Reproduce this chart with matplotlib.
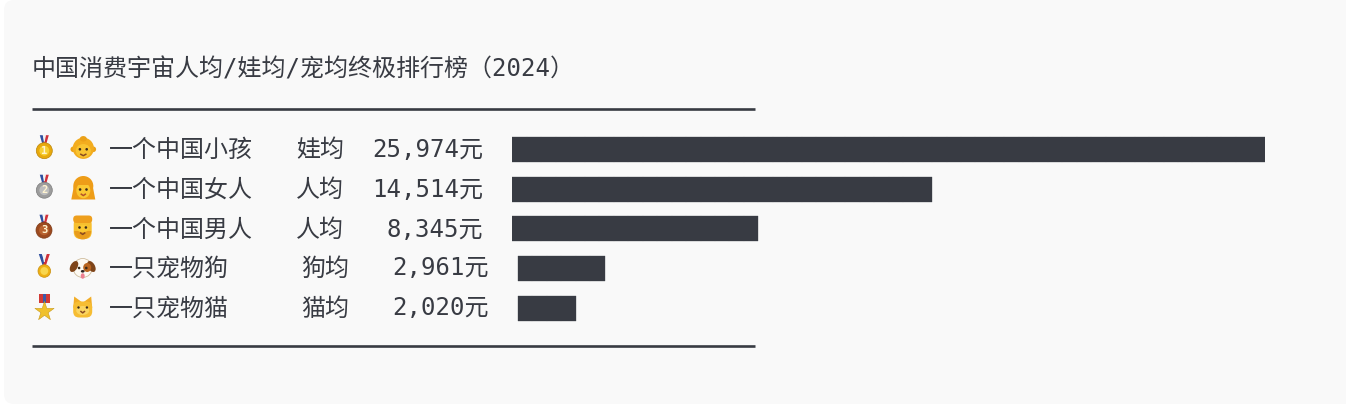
import matplotlib
matplotlib.use('Agg')
import matplotlib.pyplot as plt
from matplotlib.patches import Circle, Ellipse, FancyBboxPatch, Polygon, Rectangle, Wedge

plt.rcParams['font.family'] = ['DejaVu Sans Mono', 'Noto Sans CJK SC']

TITLE = "中国消费宇宙人均/娃均/宠均终极排行榜（2024）"
names = ["一个中国小孩", "一个中国女人", "一个中国男人", "一只宠物狗", "一只宠物猫"]
units = ["娃均", "人均", "人均", "狗均", "猫均"]
values = [25974, 14514, 8345, 2961, 2020]
blocks = [52, 29, 17, 6, 4]  # one block per 500 yuan

W, H = 1346, 404
BLOCK_PX = 14.47
INK = '#383b43'
BAR = '#383b43'
row_y = [148, 188, 228, 267, 307]

fig = plt.figure(figsize=(W / 100, H / 100), dpi=100, facecolor='white')
ax = fig.add_axes([0, 0, 1, 1])
ax.set_xlim(0, W)
ax.set_ylim(H, 0)
ax.axis('off')

ax.add_patch(FancyBboxPatch((4, 0), W + 30, H, boxstyle='round,pad=0,rounding_size=10',
                            fc='#f9f9f9', ec='none', zorder=0))

ax.text(31.8, 76.5, TITLE, fontsize=17.28, color=INK, va='baseline')
ax.hlines([109, 346], 32, 755, color=INK, lw=1.9, zorder=2)


def medal_disc(x, y, r, base, light, dark):
    ax.add_patch(Circle((x, y), r, fc=base, ec=dark, lw=0.5, zorder=4))
    ax.add_patch(Circle((x, y), r * 0.62, fc=light, ec='none', zorder=5))


def ribbon(x, top, bottom, half):
    ax.add_patch(Polygon([(x - half, top), (x - half + 3, top), (x + 1.5, bottom), (x - 1.5, bottom)],
                         fc='#2f4f9f', ec='none', zorder=3))
    ax.add_patch(Polygon([(x + half, top), (x + half - 3, top), (x - 1.5, bottom), (x + 1.5, bottom)],
                         fc='#d0313a', ec='none', zorder=3))
    ax.add_patch(Polygon([(x - 1.5, top), (x + 1.5, top), (x + 0.5, bottom - 4), (x - 0.5, bottom - 4)],
                         fc='#f2f2f2', ec='none', zorder=3))


def rank_medal(x, y, r, base, light, dark, label):
    ribbon(x, y - 15.5, y - 5, 4.5)
    medal_disc(x, y, r, base, light, dark)
    ax.text(x, y + 0.2, label, fontsize=7.5, color='#fff4d0', ha='center', va='center',
            fontweight='bold', zorder=6)


def sport_medal(x, y):
    ribbon(x, y - 17, y - 5, 5.5)
    medal_disc(x, y, 6.3, '#eeb012', '#f8d64e', '#c98f10')


def star_medal(x, y):
    ax.add_patch(Rectangle((x - 5.5, y - 17), 11, 9, fc='#d23a35', ec='none', zorder=3))
    ax.add_patch(Rectangle((x - 1.5, y - 17), 3, 9, fc='#3d5aa8', ec='none', zorder=4))
    ax.scatter([x], [y], s=210, marker='*', color='#f0c12c', edgecolors='#c99a1a',
               linewidths=0.4, zorder=5)


def eyes(x, y, gap=3.4, r=1.3, color='#3b2a1a'):
    for dx in (-gap, gap):
        ax.add_patch(Circle((x + dx, y), r, fc=color, ec='none', zorder=8))


def mouth(x, y, w=5, color='#8a4b20'):
    ax.plot([x - w / 2, x, x + w / 2], [y, y + 1.4, y], color=color, lw=1.1, zorder=8)


def baby(x, y):
    for dx in (-10, 10):
        ax.add_patch(Circle((x + dx, y + 1), 2.8, fc='#eba118', ec='none', zorder=4))
    ax.add_patch(Circle((x, y), 10.6, fc='#f3ad1f', ec='none', zorder=5))
    ax.add_patch(Ellipse((x, y - 9.5), 7, 5.5, fc='#eba118', ec='none', zorder=6))
    ax.add_patch(Ellipse((x, y + 2.5), 15, 13.5, fc='#f9c431', ec='none', zorder=6))
    eyes(x, y + 1)
    mouth(x, y + 6)


def woman(x, y):
    ax.add_patch(Polygon([(x - 12, y + 11.5), (x + 12, y + 11.5), (x + 9, y - 4), (x - 9, y - 4)],
                         fc='#ee9d18', ec='none', zorder=4))
    ax.add_patch(Circle((x, y - 2), 10, fc='#ee9d18', ec='none', zorder=4))
    ax.add_patch(Ellipse((x, y + 2.5), 14, 15.5, fc='#fbc832', ec='none', zorder=5))
    ax.add_patch(Wedge((x + 1, y - 3), 7.5, 180, 360, fc='#ee9d18', ec='none', zorder=6))
    eyes(x, y + 1.5, gap=3.2)
    mouth(x, y + 6.2, w=4, color='#b5532a')


def man(x, y):
    ax.add_patch(FancyBboxPatch((x - 9, y - 9.5), 18, 21.5, boxstyle='round,pad=0,rounding_size=7',
                                fc='#f7bf2e', ec='none', zorder=4))
    ax.add_patch(FancyBboxPatch((x - 9.5, y - 11.5), 19, 7.5, boxstyle='round,pad=0,rounding_size=3.5',
                                fc='#ee9f1d', ec='none', zorder=5))
    ax.add_patch(Wedge((x, y + 4), 8.5, 0, 180, fc='#e99c1c', ec='none', zorder=5))
    ax.add_patch(Ellipse((x, y + 1.5), 12, 7.5, fc='#fbc832', ec='none', zorder=6))
    eyes(x, y + 0.5, gap=3.2)
    mouth(x, y + 6, w=4)


def dog(x, y):
    ax.add_patch(Ellipse((x, y + 0.5), 19, 19, fc='#fdfaf3', ec='#cfbd9e', lw=0.6, zorder=5))
    ax.add_patch(Ellipse((x - 8.7, y - 1), 7, 12, angle=30, fc='#7e4419', ec='none', zorder=6))
    ax.add_patch(Ellipse((x + 8.7, y - 1), 7, 12, angle=-30, fc='#7e4419', ec='none', zorder=6))
    ax.add_patch(Ellipse((x + 4.5, y), 8, 9, fc='#b9651f', ec='none', zorder=6))
    eyes(x, y + 0.5, gap=3.6)
    ax.add_patch(Ellipse((x, y + 3.8), 3.8, 2.6, fc='#2d2320', ec='none', zorder=8))
    ax.add_patch(Ellipse((x, y + 8.5), 4, 5.5, fc='#ec7f91', ec='none', zorder=7))


def cat(x, y):
    ax.add_patch(Polygon([(x - 8.5, y - 10.5), (x - 9.5, y + 1), (x - 1, y - 5)], fc='#f2ad27', ec='none', zorder=4))
    ax.add_patch(Polygon([(x + 8.5, y - 10.5), (x + 9.5, y + 1), (x + 1, y - 5)], fc='#f2ad27', ec='none', zorder=4))
    ax.add_patch(FancyBboxPatch((x - 9.5, y - 5.5), 19, 16, boxstyle='round,pad=0,rounding_size=6',
                                fc='#f6bd33', ec='none', zorder=5))
    ax.add_patch(Ellipse((x, y + 3.5), 13, 9, fc='#fbd560', ec='none', zorder=6))
    eyes(x, y + 0.5, gap=4.2, r=1.2)
    mouth(x, y + 4.5, w=3.5)


rank_medal(44.3, 150.7, 8, '#e8a90c', '#f7cf33', '#bb860a', '1')
rank_medal(44.3, 190.2, 8, '#9c9c9c', '#bdbdbd', '#7c7c7c', '2')
rank_medal(44.0, 230.2, 8, '#9c4a1f', '#b9622f', '#7d3915', '3')
sport_medal(44.3, 271)
star_medal(44.3, 311)
baby(83.3, row_y[0] + 0.3)
woman(83.3, row_y[1])
man(82.7, row_y[2] - 1)
dog(82.7, row_y[3] + 0.5)
cat(82.7, row_y[4])

# the table columns shift a little when the name has one character less
shifts = [5.5 if len(n) < 6 else 0 for n in names]
for y, name, unit, val, sh in zip(row_y, names, units, values, shifts):
    ax.text(109, y + 8.5, name, fontsize=17.28, color=INK, va='baseline')
    ax.text(296 + sh, y + 8.5, unit, fontsize=17.28, color=INK, va='baseline')
    ax.text(483.5 + sh, y + 8.5, f"{val:,}元", fontsize=17.28, color=INK, va='baseline', ha='right')

# bars are rows of blocks, on their own axes so x is in blocks
x0, x1 = 512.4, 512.4 + BLOCK_PX * max(blocks)
y0, y1 = row_y[0] - 18.2, row_y[-1] + 21
bar_ax = fig.add_axes([x0 / W, 1 - y1 / H, (x1 - x0) / W, (y1 - y0) / H])
bar_ax.set_xlim(0, max(blocks))
bar_ax.set_ylim(len(blocks) - 0.5, -0.5)
bar_ax.axis('off')
bar_ax.patch.set_alpha(0)
for i, n in enumerate(blocks):
    start = shifts[i] / BLOCK_PX
    for b in range(n):
        bar_ax.barh(i, 1, left=start + b, height=0.63, color=BAR, edgecolor='#3d4048', linewidth=0.25)

fig.savefig('out.png', dpi=100)
